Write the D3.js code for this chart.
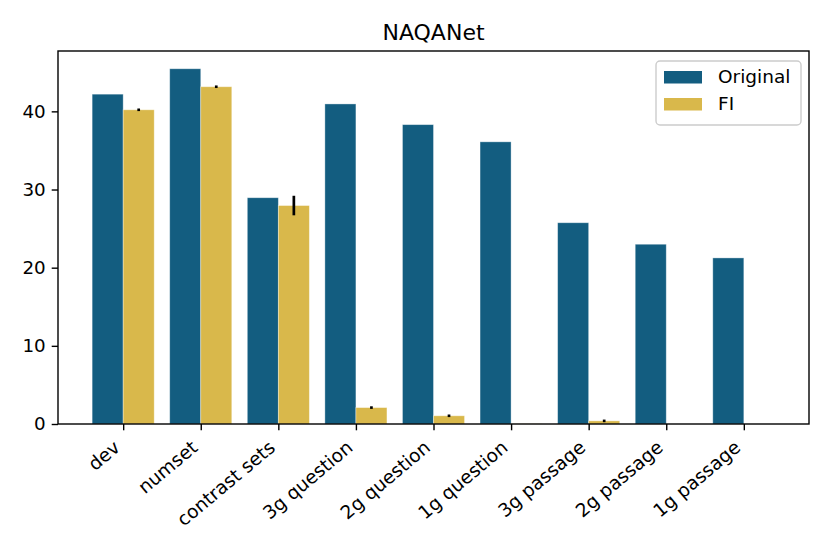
<!DOCTYPE html>
<html>
<head>
<meta charset="utf-8">
<script src="https://cdn.jsdelivr.net/npm/d3@7"></script>
<style>
  body { margin: 0; background: #fff; }
  text { font-family: "DejaVu Sans", sans-serif; fill: #000; }
</style>
</head>
<body>
<svg id="chart" width="830" height="554"></svg>
<script>
// Data
const categories = ['dev', 'numset', 'contrast sets', '3g question', '2g question',
  '1g question', '3g passage', '2g passage', '1g passage']
const original = [42.2, 45.45, 28.95, 40.95, 38.3, 36.1, 25.75, 23.0, 21.25]
const fi = [40.2, 43.15, 27.95, 2.1, 1.05, 0.02, 0.4, 0, 0]
const fiErr = [0.12, 0.05, 1.25, 0.12, 0.1, 0, 0.1, 0, 0]
const yTicks = [0, 10, 20, 30, 40]

const colors = { original: '#135d80', fi: '#d9b84b' }

const margin = { top: 51, left: 58, right: 21, bottom: 130 }
const width = 830 - margin.left - margin.right
const height = 554 - margin.top - margin.bottom

const svg = d3.select('#chart')
const g = svg.append('g')
  .attr('transform', `translate(${margin.left},${margin.top})`)

// x is linear in category index, like matplotlib with 0.05 margins
const barW = 0.4
const lo = -barW, hi = categories.length - 1 + barW
const pad = (hi - lo) * 0.05
const x = d3.scaleLinear().domain([lo - pad, hi + pad]).range([0, width])

const yMax = d3.max(categories.map((c, i) => Math.max(original[i], fi[i] + fiErr[i]))) * 1.05
const y = d3.scaleLinear().domain([0, yMax]).range([height, 0])

const bw = x(barW) - x(0)

// Original bars
g.selectAll('rect.orig')
  .data(original)
  .enter().append('rect')
  .attr('class', 'orig')
  .attr('x', (d, i) => x(i - barW))
  .attr('y', d => y(d))
  .attr('width', bw)
  .attr('height', d => y(0) - y(d))
  .attr('fill', colors.original)
  .attr('stroke', 'rgba(255,255,255,0.45)')
  .attr('stroke-width', 0.8)

// FI bars
g.selectAll('rect.fi')
  .data(fi)
  .enter().append('rect')
  .attr('class', 'fi')
  .attr('x', (d, i) => x(i))
  .attr('y', d => y(d))
  .attr('width', bw)
  .attr('height', d => y(0) - y(d))
  .attr('fill', colors.fi)
  .attr('stroke', 'rgba(255,255,255,0.45)')
  .attr('stroke-width', 0.8)

// Error bars on FI
g.selectAll('line.err')
  .data(fi)
  .enter().append('line')
  .attr('class', 'err')
  .attr('x1', (d, i) => x(i + barW / 2))
  .attr('x2', (d, i) => x(i + barW / 2))
  .attr('y1', (d, i) => y(d - fiErr[i]))
  .attr('y2', (d, i) => y(d + fiErr[i]))
  .attr('stroke', '#000')
  .attr('stroke-width', (d, i) => fiErr[i] > 0 ? 2.7 : 0)
  .each(function (d, i) {
    // tiny errors still show as a short dark dash
    if (fiErr[i] > 0 && y(d - fiErr[i]) - y(d + fiErr[i]) < 2.5) {
      const m = y(d)
      d3.select(this).attr('y1', m + 1.3).attr('y2', m - 1.3)
    }
  })

// Axes
const yAxis = g.append('g')
  .call(d3.axisLeft(y).tickValues(yTicks).tickSize(6.3).tickPadding(6))
const xAxis = g.append('g')
  .attr('transform', `translate(0,${height})`)
  .call(d3.axisBottom(x).tickValues(d3.range(categories.length))
    .tickFormat(i => categories[i]).tickSize(6.3).tickPadding(6))

yAxis.select('.domain').remove()
xAxis.select('.domain').remove()
yAxis.selectAll('text').attr('font-size', 18.3)
xAxis.selectAll('text')
  .attr('font-size', 18.6)
  .attr('text-anchor', 'end')
  .attr('y', 0)
  .attr('dy', 0)
  .attr('transform', 'translate(-2.5,25.5) rotate(-40)')
g.selectAll('.tick line').attr('stroke', '#000').attr('stroke-width', 1.4)

// Spines
g.append('rect')
  .attr('x', 0).attr('y', 0)
  .attr('width', width).attr('height', height)
  .attr('fill', 'none')
  .attr('stroke', '#000')
  .attr('stroke-width', 1.4)

// Title
svg.append('text')
  .attr('x', margin.left + width / 2)
  .attr('y', margin.top - 11)
  .attr('text-anchor', 'middle')
  .attr('font-size', 22)
  .text('NAQANet')

// Legend
const legend = g.append('g').attr('transform', `translate(${width - 153},10)`)
legend.append('rect')
  .attr('width', 145).attr('height', 64)
  .attr('rx', 4)
  .attr('fill', 'rgba(255,255,255,0.8)')
  .attr('stroke', '#cccccc')
  .attr('stroke-width', 1.4)
const items = [{ label: 'Original', color: colors.original }, { label: 'FI', color: colors.fi }]
items.forEach((d, i) => {
  legend.append('rect')
    .attr('x', 8).attr('y', 10 + i * 27)
    .attr('width', 38).attr('height', 12.5)
    .attr('fill', d.color)
  legend.append('text')
    .attr('x', 62).attr('y', 16 + i * 27)
    .attr('dy', '0.35em')
    .attr('font-size', 18.5)
    .text(d.label)
})
</script>
</body>
</html>
